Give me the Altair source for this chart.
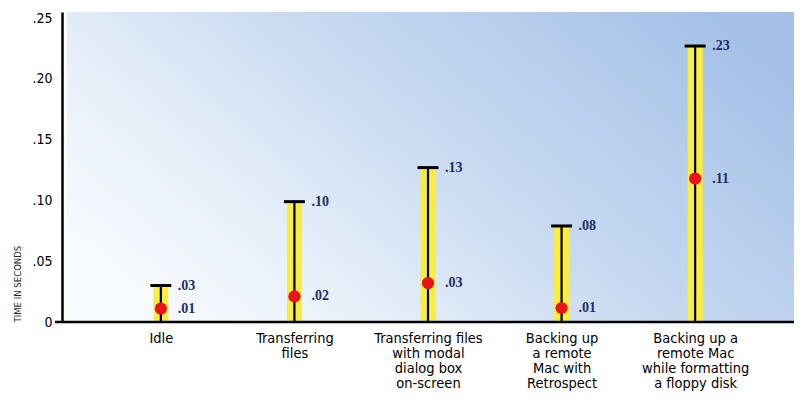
import altair as alt
import pandas as pd

categories = [
    "Idle",
    "Transferring|files",
    "Transferring files|with modal|dialog box|on-screen",
    "Backing up|a remote|Mac with|Retrospect",
    "Backing up a|remote Mac|while formatting|a floppy disk",
]
max_values = [0.030, 0.099, 0.127, 0.079, 0.227]
avg_values = [0.011, 0.021, 0.032, 0.0115, 0.118]
max_labels = [".03", ".10", ".13", ".08", ".23"]
avg_labels = [".01", ".02", ".03", ".01", ".11"]
y_ticks = [0, 0.05, 0.10, 0.15, 0.20, 0.25]

df = pd.DataFrame({
    "cat": categories,
    "max": max_values,
    "avg": avg_values,
    "maxlab": max_labels,
    "avglab": avg_labels,
})

W, H = 732, 310
SANS = "Liberation Sans Narrow, DejaVu Sans Condensed, sans-serif"
SERIF = "Liberation Serif, DejaVu Serif, serif"

xscale = alt.Scale(type="point", padding=0.74, domain=categories)
yscale = alt.Scale(domain=[0, 0.255], nice=False, zero=True)

xenc = alt.X("cat:N", scale=xscale, sort=categories, axis=alt.Axis(
    title=None, labelExpr="split(datum.value, '|')", labelAngle=0,
    labelFont=SANS, labelFontSize=14.5, labelColor="#000", labelPadding=9,
    labelLineHeight=15, ticks=False, domain=False, labelBaseline="top"))

bg = alt.Chart(alt.Data(values=[{}])).mark_rect(
    fill=alt.Gradient(
        gradient="linear",
        x1=0, y1=0.75, x2=1, y2=0.25,
        stops=[
            alt.GradientStop(offset=0, color="#f8fbfe"),
            alt.GradientStop(offset=0.25, color="#e6eff9"),
            alt.GradientStop(offset=0.55, color="#c8daf1"),
            alt.GradientStop(offset=1, color="#a6c1e7"),
        ],
    )
).encode(x=alt.value(5), x2=alt.value(W), y=alt.value(0), y2=alt.value(H))

base = alt.Chart(df)

yellow = base.mark_bar(color="#f9ee40", size=15).encode(
    x=xenc,
    y=alt.Y("max:Q", scale=yscale, axis=alt.Axis(
        title="TIME IN SECONDS", titleFont=SANS, titleFontSize=9.5, titleFontWeight="normal",
        titleAnchor="start", titleColor="#222", titlePadding=9,
        values=y_ticks, labelExpr="datum.value == 0 ? '0' : replace(format(datum.value, '.2f'), '0.', '.')",
        labelFont=SANS, labelFontSize=14, labelColor="#000", labelPadding=10,
        ticks=False, grid=False, domainColor="#000", domainWidth=2.5)),
    y2=alt.datum(0),
)

stem = base.mark_rule(color="#000", strokeWidth=2.2).encode(
    x=alt.X("cat:N", scale=xscale, sort=categories),
    y=alt.Y("max:Q", scale=yscale),
    y2=alt.datum(0),
)

cap = base.mark_tick(color="#000", size=21, thickness=3, opacity=1).encode(
    x=alt.X("cat:N", scale=xscale, sort=categories),
    y=alt.Y("max:Q", scale=yscale),
)

dot = base.mark_circle(color="#e8141c", size=150, opacity=1).encode(
    x=alt.X("cat:N", scale=xscale, sort=categories),
    y=alt.Y("avg:Q", scale=yscale),
)

maxtxt = base.mark_text(align="left", baseline="middle", dx=17, font=SERIF,
                        fontSize=14, fontWeight="bold", color="#1c2d6b").encode(
    x=alt.X("cat:N", scale=xscale, sort=categories),
    y=alt.Y("max:Q", scale=yscale),
    text="maxlab:N",
)

avgtxt = base.mark_text(align="left", baseline="middle", dx=17, font=SERIF,
                        fontSize=14, fontWeight="bold", color="#1c2d6b").encode(
    x=alt.X("cat:N", scale=xscale, sort=categories),
    y=alt.Y("avg:Q", scale=yscale),
    text="avglab:N",
)

xaxis_line = alt.Chart(alt.Data(values=[{}])).mark_rule(color="#000", strokeWidth=2.5).encode(
    x=alt.value(-7), x2=alt.value(W), y=alt.value(H))

chart = alt.layer(bg, yellow, stem, cap, dot, maxtxt, avgtxt, xaxis_line).properties(
    width=W, height=H,
    autosize=alt.AutoSizeParams(type="none"),
    padding={"left": 54, "top": 4, "right": 0, "bottom": 80},
    background="white",
).configure_view(stroke=None)

chart.save("out.html", embed_options={"renderer": "svg", "actions": False})
